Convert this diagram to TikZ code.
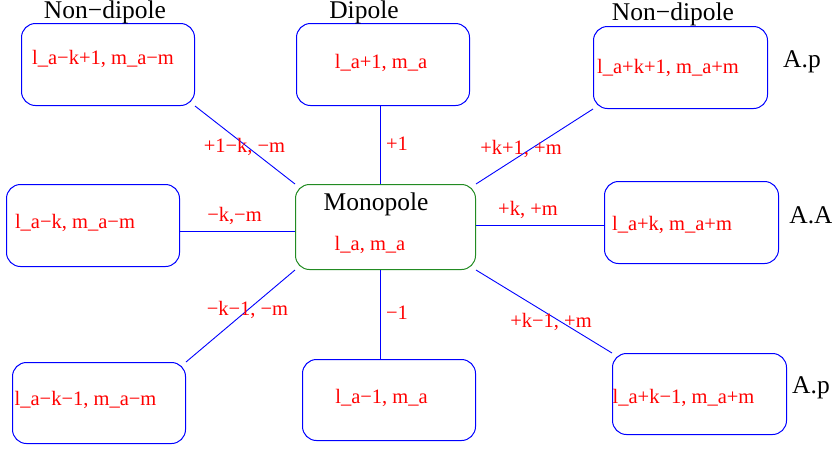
\documentclass[tikz,border=0pt]{standalone}
\usepackage{fontspec}
\setmainfont{Liberation Serif}
\definecolor{monogreen}{RGB}{34,139,34}
\begin{document}
\begin{tikzpicture}[x=1pt,y=-1pt,
  box/.style={draw=blue, line width=1pt, rounded corners=14pt, inner sep=0pt, anchor=north west},
  monobox/.style={box, draw=monogreen},
  conn/.style={draw=blue, line width=0.9pt},
  val/.style={text=red, font=\fontsize{20.5}{24}\selectfont, inner sep=0pt},
  lbl/.style={text=red, font=\fontsize{20.5}{24}\selectfont, inner sep=0pt},
  title/.style={text=black, font=\fontsize{25.5}{30}\selectfont, inner sep=0pt}]
\useasboundingbox (0,0) rectangle (832,448);
% boxes
\node[box, minimum width=173pt, minimum height=82pt] (tl) at (21,23) {};
\node[box, minimum width=173pt, minimum height=82pt] (dip) at (296,23) {};
\node[box, minimum width=174pt, minimum height=82pt] (tr) at (593,26) {};
\node[box, minimum width=173pt, minimum height=82pt] (ml) at (6,184) {};
\node[monobox, minimum width=180pt, minimum height=85pt] (mono) at (295,184) {};
\node[box, minimum width=174pt, minimum height=82pt] (mr) at (604,181) {};
\node[box, minimum width=173pt, minimum height=81pt] (bl) at (12,362) {};
\node[box, minimum width=173pt, minimum height=81pt] (bot) at (302,359) {};
\node[box, minimum width=174pt, minimum height=81pt] (br) at (612,353) {};
% connectors
\draw[conn] (tl.south east) -- (mono.north west);
\draw[conn] ([xshift=-3pt]dip.south) -- ([xshift=-3pt]dip.south |- mono.north);
\draw[conn] (mono.north east) -- (tr.south west);
\draw[conn] ([yshift=-6pt]ml.east) -- ([yshift=-6pt]ml.east -| mono.west);
\draw[conn] ([yshift=1.5pt]mono.east) -- ([yshift=1.5pt]mono.east -| mr.west);
\draw[conn] (mono.south west) -- (bl.north east);
\draw[conn] ([xshift=-9pt]bot.north) -- ([xshift=-9pt]bot.north |- mono.south);
\draw[conn] (mono.south east) -- (br.north west);
% titles
\node[title] (t1) at (105,12.5) {Non−dipole};
\node[title] (t2) at (364,12.5) {Dipole};
\node[title] (t3) at (673,14) {Non−dipole};
\node[title] (t4) at (376,204) {Monopole};
\node[title] (ap1) at (802,62) {A.p};
\node[title] (aa) at (811,215) {A.A};
\node[title] (ap2) at (811,388) {A.p};
% values
\node[val] (v1) at (103,59) {l\_a−k+1, m\_a−m};
\node[val] (v2) at (381,63) {l\_a+1, m\_a};
\node[val] (v3) at (668,68) {l\_a+k+1, m\_a+m};
\node[val] (v4) at (75,223) {l\_a−k, m\_a−m};
\node[val] (v5) at (370,245) {l\_a, m\_a};
\node[val] (v6) at (672,225) {l\_a+k, m\_a+m};
\node[val] (v7) at (85.5,400) {l\_a−k−1, m\_a−m};
\node[val] (v8) at (381.5,398) {l\_a−1, m\_a};
\node[val] (v9) at (683.5,398) {l\_a+k−1, m\_a+m};
% connector labels
\node[lbl] (c1) at (244.5,146.5) {+1−k, −m};
\node[lbl] (c2) at (397,143.5) {+1};
\node[lbl] (c3) at (521,149) {+k+1, +m};
\node[lbl] (c4) at (234.5,216) {−k,−m};
\node[lbl] (c5) at (528,210) {+k, +m};
\node[lbl] (c6) at (247.5,310) {−k−1, −m};
\node[lbl] (c7) at (397,313) {−1};
\node[lbl] (c8) at (551,322) {+k−1, +m};
\end{tikzpicture}
\end{document}
